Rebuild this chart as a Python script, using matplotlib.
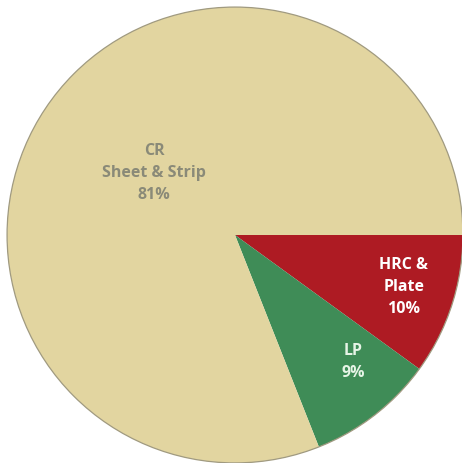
import matplotlib.pyplot as plt

# product mix shares (%)
labels = ["HRC &\nPlate", "LP", "CR\nSheet & Strip"]
shares = [10, 9, 81]
colors = ["#AE1B23", "#3F8C57", "#E2D5A0"]
text_colors = ["#FFFFFF", "#E6F4E6", "#8A8A78"]
label_pos = [(0.74, -0.225), (0.52, -0.555), (-0.355, 0.275)]

plt.rcParams['font.family'] = ['Open Sans', 'DejaVu Sans']

fig = plt.figure(figsize=(4.62, 4.64), dpi=100)
ax = fig.add_axes([0, 0, 1, 1])

ax.pie(shares, colors=colors, startangle=0, counterclock=False,
       radius=1.0, wedgeprops=dict(linewidth=0))
# thin outline round the pie
ax.add_patch(plt.Circle((0, 0), 1.0, fill=False, edgecolor="#A09A80", linewidth=0.9))

for lab, val, pos, tc in zip(labels, shares, label_pos, text_colors):
    ax.text(pos[0], pos[1], f"{lab}\n{val}%", ha="center", va="center",
            color=tc, fontsize=11.5, fontweight="bold", linespacing=1.5)

ax.set_xlim(-1.031, 0.996)
ax.set_ylim(-1.0, 1.035)
ax.set_aspect("equal")
ax.axis("off")

fig.savefig("out.png", dpi=100)
